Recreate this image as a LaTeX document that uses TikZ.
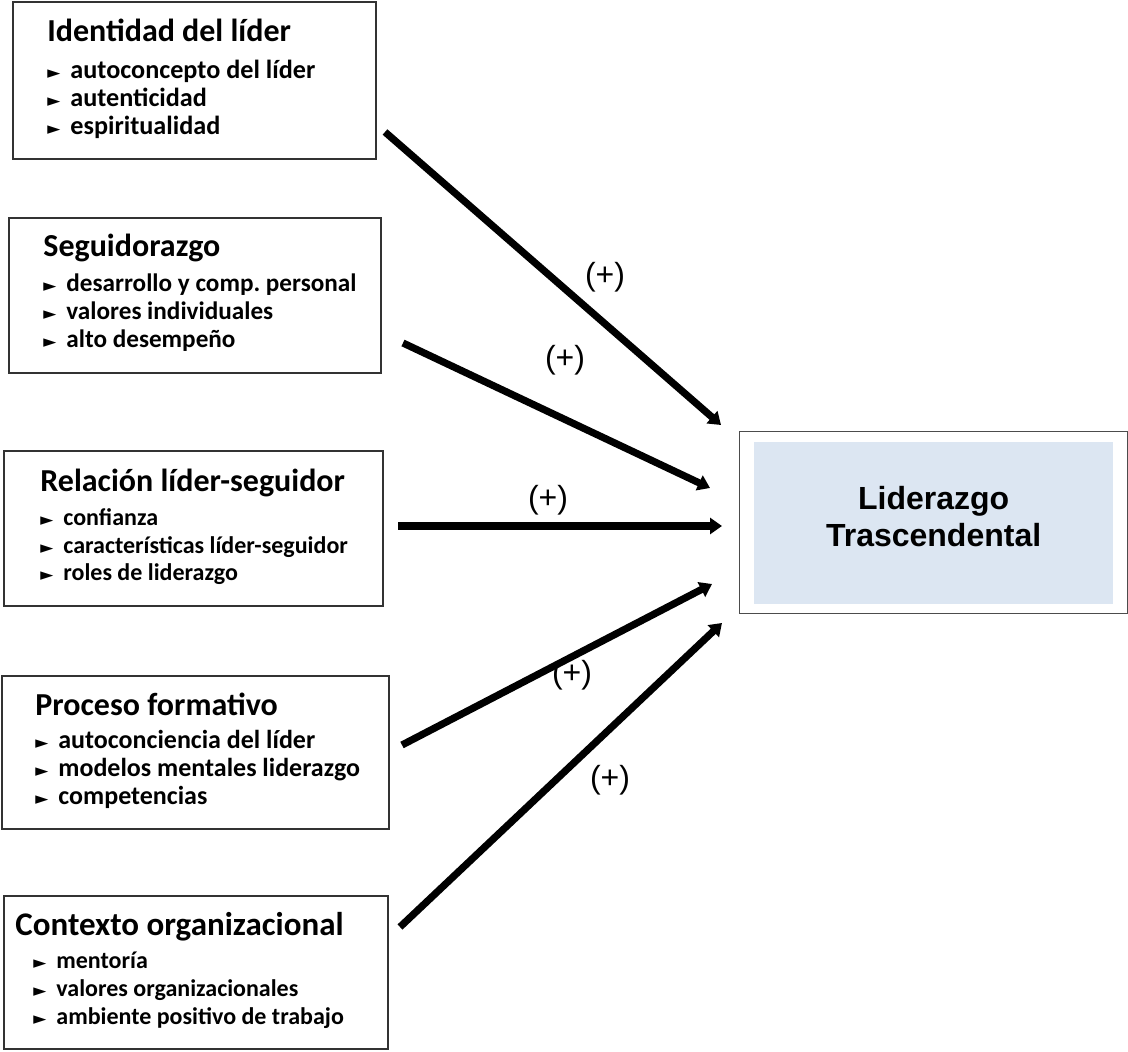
\documentclass[tikz,border=0pt]{standalone}
\usepackage{fontspec}
\setmainfont{Carlito}
\newfontfamily\arialfont{Liberation Sans}
\newfontfamily\symfont{DejaVu Sans}
\usetikzlibrary{arrows.meta,calc}

\definecolor{paleblue}{HTML}{DCE6F2}
\newcommand\tri{\makebox[11.5pt][l]{\symfont\fontsize{8.5pt}{8.5pt}\selectfont ►}}
\frenchspacing

\begin{document}
\begin{tikzpicture}[
    x=0.5pt, y=-0.5pt,
    factor/.style={draw=black!80, line width=0.8pt, anchor=north west, inner sep=0pt},
    head/.style={anchor=base west, inner sep=0pt, font=\fontsize{#1}{18}\selectfont\bfseries},
    head/.default=16,
    item/.style={anchor=base west, inner sep=0pt, font=\fontsize{#1}{14}\selectfont\bfseries},
    item/.default=12.5,
    flow/.style={line width=3.6pt, -{Triangle[length=6pt,width=8pt]}},
    sign/.style={font=\arialfont\fontsize{16}{18}\selectfont},
  ]
  \useasboundingbox (0,0) rectangle (1128,1052);

  % factores
  \node[factor, minimum width=181.5pt, minimum height=78.5pt] (idl) at (12,1) {};
  \node[head] (idl-h) at (47,42) {Identidad del líder};
  \foreach \t [count=\i] in {autoconcepto del líder, autenticidad, espiritualidad}
    \node[item=13.1] (idl-\i) at ($(idl-h.base west)+(0,9+28*\i)$) {\tri\t};

  \node[factor, minimum width=186pt, minimum height=77.5pt] (seg) at (8,217) {};
  \node[head] (seg-h) at (43,257) {Seguidorazgo};
  \foreach \t [count=\i] in {desarrollo y comp. personal, valores individuales, alto desempeño}
    \node[item=12.6] (seg-\i) at ($(seg-h.base west)+(0,7+28*\i)$) {\tri\t};

  \node[factor, minimum width=189.5pt, minimum height=77.5pt] (rel) at (3,450) {};
  \node[head] (rel-h) at (40,492) {Relación líder-seguidor};
  \foreach \t [count=\i] in {confianza, características líder-seguidor, roles de liderazgo}
    \node[item=12] (rel-\i) at ($(rel-h.base west)+(0,5+28*\i)$) {\tri\t};

  \node[factor, minimum width=193.5pt, minimum height=76.5pt] (pro) at (1,675) {};
  \node[head] (pro-h) at (35,715) {Proceso formativo};
  \foreach \t [count=\i] in {autoconciencia del líder, modelos mentales liderazgo, competencias}
    \node[item=13] (pro-\i) at ($(pro-h.base west)+(0,5+28*\i)$) {\tri\t};

  \node[factor, minimum width=192pt, minimum height=76.5pt] (ctx) at (3,895) {};
  \node[head=16.5] (ctx-h) at (15,935) {Contexto organizacional};
  \foreach \t [count=\i] in {mentoría, valores organizacionales, ambiente positivo de trabajo}
    \node[item=12] (ctx-\i) at ($(ctx-h.base west)+(18,5+28*\i)$) {\tri\t};

  % liderazgo trascendental
  \node[factor, draw=black!70, line width=0.6pt, minimum width=194pt, minimum height=91pt] (lt) at (739,431) {};
  \node[fill=paleblue, minimum width=179.5pt, minimum height=81pt] (lt-in) at (lt.center) {};
  \node[align=center, yshift=3pt, font=\arialfont\bfseries\fontsize{16}{18.5}\selectfont] (lt-t) at (lt-in.center) {Liderazgo\\Trascendental};

  % flechas
  \coordinate (s1) at (385,132); \coordinate (e1) at (721,425);
  \coordinate (s2) at (403,343); \coordinate (e2) at (710,488);
  \coordinate (s3) at (398,526); \coordinate (e3) at (722,526);
  \coordinate (s4) at (402,745); \coordinate (e4) at (712,584);
  \coordinate (s5) at (400,927); \coordinate (e5) at (722,623);
  \foreach \i in {1,...,5}
    \draw[flow] (s\i) -- (e\i);

  \node[sign] (p1) at (605,277) {(+)};
  \node[sign] (p2) at (565,360) {(+)};
  \node[sign] (p3) at (548,500) {(+)};
  \node[sign] (p4) at (572,675) {(+)};
  \node[sign] (p5) at (610,780) {(+)};
\end{tikzpicture}
\end{document}
